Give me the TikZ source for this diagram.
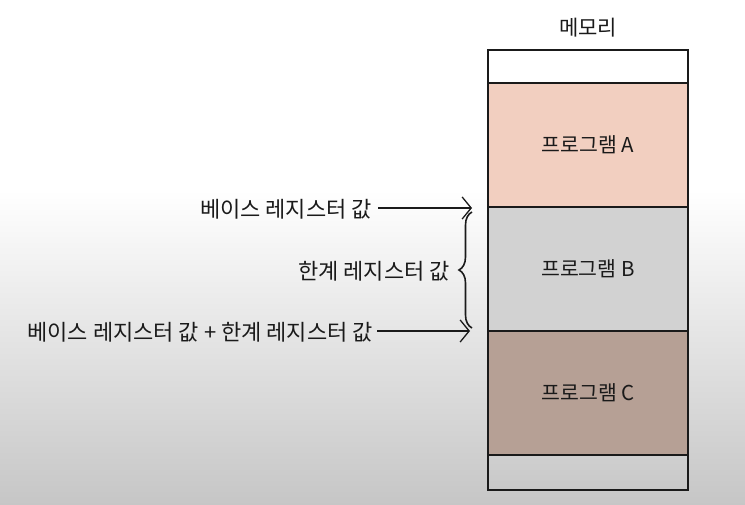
\documentclass[tikz,border=0pt]{standalone}
\usepackage{fontspec}
\newfontfamily\kr{Noto Sans CJK KR}
\usetikzlibrary{arrows.meta,decorations.pathreplacing}
\definecolor{pa}{HTML}{F2CFC0}
\definecolor{pb}{HTML}{D2D2D2}
\definecolor{pc}{HTML}{B6A095}
\definecolor{ink}{HTML}{1A1A1A}
\definecolor{bggray}{HTML}{C6C6C6}
\tikzset{
  seg/.style={draw=ink, line width=1.3pt, minimum width=200pt, inner sep=0pt, outer sep=0pt, anchor=north west, font=\kr\fontsize{20.5}{20.5}\selectfont, text=ink},
  lbl/.style={font=\kr\fontsize{22}{22}\selectfont, text=ink, inner sep=0pt},
  arr/.style={draw=ink, line width=1.3pt, -{Straight Barb[length=9pt,width=22pt,line width=1.3pt]}},
}
\begin{document}
\begin{tikzpicture}[x=1pt,y=-1pt]
\useasboundingbox (0,0) rectangle (745,505);
\fill[white] (0,0) rectangle (745,505);
\shade[top color=white, bottom color=bggray] (0,190) rectangle (745,505);
% memory column
\node[seg, fill=white, minimum height=33pt] (top) at (488,50) {};
\node[seg, fill=pa, minimum height=124pt] (a) at (488,83) {프로그램 A};
\node[seg, fill=pb, minimum height=124pt] (b) at (488,207) {프로그램 B};
\node[seg, fill=pc, minimum height=124pt] (c) at (488,331) {프로그램 C};
\node[seg, minimum height=35pt] (bot) at (488,455) {};
\node[lbl, font=\kr\fontsize{21}{21}\selectfont] (mem) at (588,28) {메모리};
% labels
\node[lbl, anchor=east] (base) at (372,209) {베이스 레지스터 값};
\node[lbl, anchor=east] (lim) at (450,271) {한계 레지스터 값};
\node[lbl, anchor=east] (sum) at (373,332) {베이스 레지스터 값 + 한계 레지스터 값};
\coordinate (tb) at (472,208);
\coordinate (ts) at (470,331);
\draw[arr] (base.east) ++(6,-1) -- (tb);
\draw[arr] (sum.east) ++(4,-1) -- (ts);
\draw[draw=ink, line width=1.6pt, decorate, decoration={brace, amplitude=13pt}] (472,328) -- (472,212);
\end{tikzpicture}
\end{document}
